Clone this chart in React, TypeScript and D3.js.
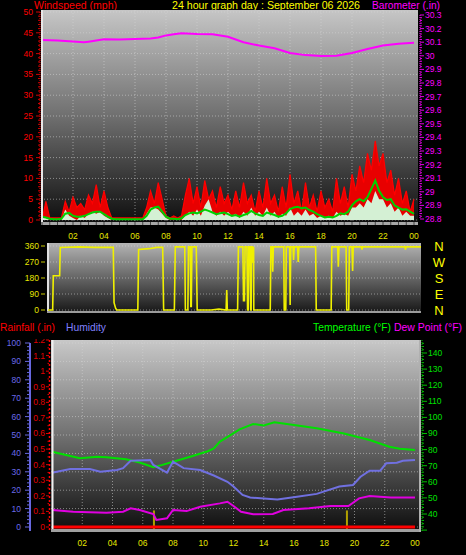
import React from "react";
import * as d3 from "d3";

const W = 466;
const H = 555;
const FONT = "'Liberation Sans', Arial, Helvetica, sans-serif";

// ---------- Wind (15-minute samples, 0h .. 24h) ----------
const windGust = [
  0, 4.5, 0.5, 0.5, 0.5, 0.5, 4.5, 2, 5.5, 3, 4, 2.5, 6, 4, 8.5, 3, 7, 3, 0.5, 0.5, 0.5, 0.5, 0.5, 0.5,
  0.5, 0.5, 0.5, 3, 7, 4, 9, 5, 1, 0.5, 1, 0.5, 1, 6, 10, 4, 8, 3, 9.5, 5, 7, 3, 8, 4,
  6, 2.5, 7, 3, 9, 4, 6, 2, 7, 3, 10, 4, 6, 2, 8, 3, 11, 4, 7, 2, 9, 3, 6, 2,
  7, 3, 5, 2, 10, 4, 8, 3, 11, 7, 13, 9, 16, 12, 19, 13, 16, 9, 12, 6, 10, 4, 7, 2, 5,
];
const windSpeed = [
  0.5, 0.5, 0, 0, 0, 0, 2.5, 1, 0.5, 0, 1, 0.5, 1.5, 2, 1.5, 2, 1, 0.5, 0, 0, 0, 0, 0, 0,
  0, 0, 0, 1.5, 3, 3, 2.5, 1.5, 0.5, 0, 0, 0, 0, 1, 2, 1, 2.5, 1, 3.5, 5, 2, 1, 2, 1,
  2, 1, 1.5, 0.5, 2, 1, 3, 1, 2, 1, 3, 1, 2, 0.5, 1.5, 1, 3, 1, 2, 1, 2.5, 1, 1.5, 0.5,
  1, 0.5, 1, 0.5, 2, 1, 1.5, 1, 3, 3, 4, 3, 5, 4, 7, 5, 5, 3, 4, 2, 3, 1, 2, 1, 1,
];
const windAvg = [
  0.8, 0.6, 0.3, 0.2, 0.2, 0.3, 1.5, 1.7, 1.0, 0.8, 0.8, 1.0, 1.4, 1.8, 2.0, 2.0, 1.4, 0.8, 0.3, 0.2, 0.2, 0.2, 0.2, 0.2,
  0.2, 0.2, 0.2, 1.0, 2.5, 3.0, 3.2, 2.0, 0.8, 0.3, 0.3, 0.2, 0.4, 1.2, 1.6, 1.8, 1.6, 2.0, 2.5, 2.2, 1.8, 1.4, 1.6, 1.8,
  1.4, 1.0, 1.2, 0.8, 1.2, 1.5, 2.2, 1.6, 1.2, 1.0, 1.8, 1.5, 1.2, 0.8, 1.0, 1.6, 2.6, 3.0, 3.2, 2.8, 3.0, 2.4, 2.0, 1.4,
  1.0, 0.6, 0.8, 0.6, 1.0, 1.6, 1.4, 2.0, 3.5, 4.5, 5.0, 4.5, 5.5, 7.5, 9.5, 7.0, 5.5, 4.8, 5.0, 3.5, 3.0, 2.5, 2.6, 2.0, 1.5,
];

// ---------- Barometer ----------
const baroHours = [0, 1, 2, 2.7, 3, 4, 5, 6, 7, 7.5, 8, 8.5, 9, 10, 11, 12, 13, 14, 15, 16, 17, 18, 19, 20, 21, 22, 23, 24];
const baroValues = [30.116, 30.112, 30.105, 30.099, 30.104, 30.122, 30.12, 30.124, 30.128, 30.135, 30.15, 30.158, 30.165, 30.16,
  30.158, 30.14, 30.1, 30.075, 30.055, 30.02, 30.005, 29.999, 30.0, 30.02, 30.05, 30.075, 30.088, 30.096];

// ---------- Wind direction ----------
const dirHours = [0, 0.3, 0.34, 0.75, 0.79, 2.0, 3.0, 4.2, 4.25, 4.35, 4.42, 5.78, 5.83, 6.5, 7.0, 7.38, 7.44, 8.13, 8.19, 8.8,
  8.84, 9.0, 9.04, 9.15, 9.19, 9.22, 9.26, 9.54, 9.6, 10.5, 11.0, 11.46, 11.5, 11.54, 12.2, 12.25, 12.54, 12.58, 12.64, 12.68,
  12.8, 12.84, 12.88, 12.92, 13.0, 13.04, 13.07, 13.1, 13.17, 13.2, 13.23, 13.24, 14.3, 14.34, 14.42, 14.46, 14.5, 15.17, 15.2, 15.3,
  15.33, 15.55, 15.58, 15.62, 15.77, 15.8, 15.84, 16.06, 16.1, 16.14, 17.22, 17.26, 18.22, 18.26, 18.64, 18.68, 18.72, 19.18, 19.22, 19.35,
  19.39, 19.56, 19.6, 19.64, 20.16, 20.2, 20.24, 22.0, 22.98, 23.0, 23.04, 24];
const dirValues = [0, 0, 193, 193, 352, 355, 352, 352, 41, 10, 0, 0, 341, 345, 352, 352, 0, 0, 355, 355,
  0, 0, 355, 355, 20, 20, 355, 355, 0, 0, 5, 0, 112, 0, 0, 355, 355, 52, 52, 355,
  355, 0, 0, 355, 355, 0, 0, 355, 355, 264, 355, 0, 0, 355, 355, 215, 355, 355, 0, 0,
  355, 355, 28, 355, 355, 281, 355, 355, 270, 355, 355, 0, 0, 355, 355, 244, 355, 355, 0, 0,
  355, 355, 220, 355, 355, 340, 355, 355, 355, 340, 355, 355];

// ---------- Temperature / humidity / dew point / rain ----------
const tempHours = [0, 1, 1.85, 3, 3.6, 4.9, 5.8, 6.7, 7.3, 8, 9.3, 10.3, 10.7, 11.1, 11.8, 12.4, 13.3, 14, 14.7, 16, 17.5, 19.3, 21, 22.3, 23, 24];
const tempValues = [78.7, 76.5, 74.6, 75.5, 75.2, 74, 72, 69, 70.5, 72.5, 76, 79, 80.8, 85, 89, 92.6, 95.9, 95, 97, 95.3, 93.2, 90, 86, 81.8, 80.5, 79.8];

const humHours = [0, 1.2, 2.5, 3.2, 4.3, 4.7, 5.2, 6.5, 6.7, 7.6, 8.0, 8.7, 9.8, 10.7, 11.6, 12.0, 12.6, 13.1, 14.9, 16.2, 17.5, 19, 19.9, 20.4, 21, 21.7, 22.1, 22.8, 23.2, 24];
const humValues = [29.5, 31.5, 31.5, 30, 31, 32, 36, 36.4, 33.7, 29.5, 35.5, 32, 31, 28, 24.6, 22, 17.4, 16, 15, 16.5, 18, 22, 22.8, 27.3, 30.6, 30.6, 34.6, 34.9, 36, 36.4];

const dewHours = [0, 1.4, 3.6, 4.7, 5.2, 5.8, 6.7, 6.9, 7.6, 8.0, 8.9, 9.8, 11.1, 11.6, 12.0, 12.5, 13.3, 14.6, 15.3, 17.0, 18.4, 19.6, 20.3, 21.0, 22.4, 24];
const dewValues = [42.5, 41.4, 40.8, 41.4, 43.5, 42.5, 40, 36.3, 37.3, 42.5, 41.8, 44.5, 46.6, 47.6, 45, 41.4, 39.8, 40, 42.5, 43.5, 45, 45, 49.7, 51.2, 50.2, 50.2];

const rainHours = [0, 24];
const rainValues = [0, 0];
const rainMarkHours = [6.74, 19.5];
const rainMarkHeights = [9, 9];

// ---------- tick labels ----------
const hourTicks = [2, 4, 6, 8, 10, 12, 14, 16, 18, 20, 22, 24];
const hourLabels = ["02", "04", "06", "08", "10", "12", "14", "16", "18", "20", "22", "00"];
const windTicks = [0, 5, 10, 15, 20, 25, 30, 35, 40, 45, 50];
const baroTicks = [28.8, 28.9, 29.0, 29.1, 29.2, 29.3, 29.4, 29.5, 29.6, 29.7, 29.8, 29.9, 30.0, 30.1, 30.2, 30.3];
const dirTicks = [0, 90, 180, 270, 360];
const compass = ["N", "W", "S", "E", "N"];
const humTicks = [0, 10, 20, 30, 40, 50, 60, 70, 80, 90, 100];
const rainTicks = [0, 0.1, 0.2, 0.3, 0.4, 0.5, 0.6, 0.7, 0.8, 0.9, 1.0, 1.1, 1.2];
const tempTicks = [40, 50, 60, 70, 80, 90, 100, 110, 120, 130, 140];

// ---------- scales ----------
const xTop = d3.scaleLinear().domain([0, 24]).range([42, 414]);
const yWind = d3.scaleLinear().domain([0, 50]).range([220, 12]);
const yBaro = d3.scaleLinear().domain([28.8, 30.3]).range([219, 15]);
const xMid = d3.scaleLinear().domain([0, 24]).range([48, 421]);
const yDir = d3.scaleLinear().domain([0, 360]).range([310, 246]);
const xBot = d3.scaleLinear().domain([0, 24]).range([52, 415]);
const yHum = d3.scaleLinear().domain([0, 100]).range([527, 343]);
const yRain = d3.scaleLinear().domain([0, 1.2]).range([527, 340]);
const yTemp = d3.scaleLinear().domain([40, 140]).range([514, 353]);

const TOP = { x: 41, y: 10, w: 377, h: 215 };
const MID = { x: 47, y: 243, w: 374, h: 70 };
const BOT = { x: 51, y: 340, w: 370, h: 192 };

const windT = windGust.map((_, i) => i / 4);

function fmtOne(v: number) {
  return d3.format(".1f")(v).replace(/\.0$/, "");
}

const grid = "rgba(215,215,215,0.55)";
const LBL = 8.5;

function Head(p: { x: number; y: number; len: number; color: string; children: string }) {
  return (
    <text x={p.x} y={p.y} fontSize={11} fill={p.color} textLength={p.len} lengthAdjust="spacingAndGlyphs">{p.children}</text>
  );
}

export default function App() {
  const gustArea = d3.area<number>().x((_, i) => xTop(windT[i])).y0(yWind(0)).y1((d) => yWind(d))(windGust) || "";
  const gustLine = d3.line<number>().x((_, i) => xTop(windT[i])).y((d) => yWind(d))(windGust) || "";
  const speedArea = d3.area<number>().x((_, i) => xTop(windT[i])).y0(yWind(0)).y1((d) => yWind(d))(windSpeed) || "";
  const avgLine = d3.line<number>().x((_, i) => xTop(windT[i])).y((d) => yWind(d))(windAvg) || "";
  const baroLine = d3.line<number>().x((_, i) => xTop(baroHours[i])).y((d) => yBaro(d))(baroValues) || "";
  const dirLine = d3.line<number>().x((_, i) => xMid(dirHours[i])).y((d) => yDir(d))(dirValues) || "";
  const tempLine = d3.line<number>().x((_, i) => xBot(tempHours[i])).y((d) => yTemp(d))(tempValues) || "";
  const humLine = d3.line<number>().x((_, i) => xBot(humHours[i])).y((d) => yHum(d))(humValues) || "";
  const dewLine = d3.line<number>().x((_, i) => xBot(dewHours[i])).y((d) => yTemp(d))(dewValues) || "";
  const rainLine = d3.line<number>().x((_, i) => xBot(rainHours[i])).y((d) => yRain(d))(rainValues) || "";

  const windMinor = d3.range(0, 50.01, 1);
  const baroMinor = d3.range(0, 76).map((i) => 28.8 + i * 0.02);
  const humMinor = d3.range(0, 100.01, 2);
  const rainMinor = d3.range(0, 25).map((i) => i * 0.05);
  const tempMinor = d3.range(0, 60).map((i) => 30 + i * 2);
  const halfHours = d3.range(0, 49).map((i) => i / 2);

  return (
    <svg width={W} height={H} style={{ position: "absolute", left: 0, top: 0, background: "#000" }} fontFamily={FONT}>
      <defs>
        <linearGradient id="gTop" x1="0" y1="0" x2="0" y2="1">
          <stop offset="0" stopColor="#c6c6c6" />
          <stop offset="0.5" stopColor="#6e6e6e" />
          <stop offset="1" stopColor="#0c0c0c" />
        </linearGradient>
        <linearGradient id="gMid" x1="0" y1="0" x2="0" y2="1">
          <stop offset="0" stopColor="#b4b4b4" />
          <stop offset="1" stopColor="#161616" />
        </linearGradient>
        <linearGradient id="gBot" x1="0" y1="0" x2="0" y2="1">
          <stop offset="0" stopColor="#c8c8c8" />
          <stop offset="0.5" stopColor="#707070" />
          <stop offset="1" stopColor="#0c0c0c" />
        </linearGradient>
        <clipPath id="cTop"><rect x={TOP.x} y={TOP.y} width={TOP.w} height={TOP.h} /></clipPath>
        <clipPath id="cMid"><rect x={MID.x} y={MID.y} width={MID.w} height={MID.h} /></clipPath>
        <clipPath id="cBot"><rect x={BOT.x} y={BOT.y} width={BOT.w} height={BOT.h} /></clipPath>
        <clipPath id="cLbl"><rect x={0} y={339} width={W} height={H - 339} /></clipPath>
      </defs>
      <rect x={0} y={0} width={W} height={H} fill="#000" />

      {/* ================= TOP PANEL ================= */}
      <Head x={34} y={9} len={83} color="#ff0000">Windspeed (mph)</Head>
      <Head x={172} y={9} len={188} color="#ffff00">24 hour graph day : September 06 2026</Head>
      <Head x={372} y={9} len={68} color="#ff00ff">Barometer (.in)</Head>

      <rect x={TOP.x} y={TOP.y} width={TOP.w} height={TOP.h} fill="url(#gTop)" />
      {windTicks.map((t) => (
        <line key={"wg" + t} x1={TOP.x} x2={TOP.x + TOP.w} y1={yWind(t)} y2={yWind(t)} stroke={grid} strokeDasharray="1,2" />
      ))}
      {hourTicks.slice(0, 11).map((t) => (
        <line key={"tv" + t} x1={xTop(t)} x2={xTop(t)} y1={TOP.y} y2={TOP.y + TOP.h} stroke={grid} strokeDasharray="1,2" />
      ))}
      <g clipPath="url(#cTop)">
        <path d={gustArea} fill="#e80000" />
        <path d={gustLine} fill="none" stroke="#ff0000" strokeWidth={1.2} />
        <path d={speedArea} fill="#d4f0d4" />
        <path d={avgLine} fill="none" stroke="#00d000" strokeWidth={2} />
        <path d={baroLine} fill="none" stroke="#ff00ff" strokeWidth={2} />
      </g>
      <line x1={TOP.x + 1} x2={TOP.x + 1} y1={TOP.y} y2={TOP.y + TOP.h} stroke="#e8e8e8" strokeWidth={2} />
      <line x1={TOP.x} x2={TOP.x + TOP.w} y1={TOP.y + TOP.h - 1.5} y2={TOP.y + TOP.h - 1.5} stroke="#a8a8a8" strokeWidth={3} />
      {halfHours.map((h) => (
        <line key={"hh" + h} x1={xTop(h)} x2={xTop(h)} y1={TOP.y + TOP.h - 3} y2={TOP.y + TOP.h} stroke="#444" />
      ))}
      {/* left wind axis */}
      <line x1={40} x2={40} y1={yWind(50)} y2={yWind(0)} stroke="#ff0000" strokeDasharray="1,1" />
      {windMinor.map((t) => (
        <line key={"wm" + t} x1={t % 5 === 0 ? 36 : 38} x2={40} y1={yWind(t)} y2={yWind(t)} stroke="#d00000" />
      ))}
      {windTicks.map((t) => (
        <text key={"wl" + t} x={33} y={yWind(t)} dy="0.35em" fontSize={LBL} fill="#ff0000" textAnchor="end">{t}</text>
      ))}
      {/* right baro axis */}
      <line x1={420} x2={420} y1={yBaro(30.3)} y2={yBaro(28.8)} stroke="#ff00ff" strokeDasharray="1,1" />
      {baroMinor.map((t, i) => (
        <line key={"bm" + i} x1={420} x2={i % 5 === 0 ? 424 : 422} y1={yBaro(t)} y2={yBaro(t)} stroke="#e000e0" />
      ))}
      {baroTicks.map((t) => (
        <text key={"bl" + t} x={425} y={yBaro(t)} dy="0.35em" fontSize={LBL} fill="#ff00ff">{fmtOne(t)}</text>
      ))}
      {hourTicks.map((t, i) => (
        <text key={"xl" + t} x={xTop(t)} y={238.5} fontSize={LBL} fill="#e6e600" textAnchor="middle">{hourLabels[i]}</text>
      ))}

      {/* ================= MIDDLE PANEL ================= */}
      <rect x={MID.x} y={MID.y} width={MID.w} height={MID.h} fill="url(#gMid)" />
      {dirTicks.map((t) => (
        <line key={"dg" + t} x1={MID.x} x2={MID.x + MID.w} y1={yDir(t)} y2={yDir(t)} stroke={grid} strokeDasharray="1,2" />
      ))}
      <line x1={MID.x + 1} x2={MID.x + 1} y1={MID.y} y2={MID.y + MID.h} stroke="#e0e0e0" strokeWidth={2} />
      <line x1={MID.x} x2={MID.x + MID.w} y1={MID.y + MID.h - 1} y2={MID.y + MID.h - 1} stroke="#9a9a9a" strokeWidth={2} />
      <g clipPath="url(#cMid)">
        <path d={dirLine} fill="none" stroke="#f0f000" strokeWidth={1.6} />
      </g>
      {dirTicks.map((t) => (
        <g key={"dl" + t}>
          <line x1={41} x2={45} y1={yDir(t)} y2={yDir(t)} stroke="#c8c800" />
          <text x={39} y={yDir(t)} dy="0.35em" fontSize={LBL} fill="#e6e600" textAnchor="end">{t}</text>
        </g>
      ))}
      {compass.map((c, i) => (
        <text key={"cp" + i} x={439} y={yDir(360 - i * 90)} dy="0.38em" fontSize={13} fill="#ffff00" textAnchor="middle">{c}</text>
      ))}

      {/* ================= BOTTOM PANEL ================= */}
      <Head x={0} y={331} len={55} color="#ff0000">Rainfall (.in)</Head>
      <Head x={66} y={331} len={40} color="#8080ff">Humidity</Head>
      <Head x={313} y={331} len={78} color="#00ff00">Temperature (°F)</Head>
      <Head x={394} y={331} len={68} color="#ff00ff">Dew Point (°F)</Head>

      <rect x={BOT.x} y={BOT.y} width={BOT.w} height={BOT.h} fill="url(#gBot)" />
      {humTicks.map((t) => (
        <line key={"hg" + t} x1={BOT.x} x2={BOT.x + BOT.w} y1={yHum(t)} y2={yHum(t)} stroke={grid} strokeDasharray="1,2" />
      ))}
      {hourTicks.slice(0, 11).map((t) => (
        <line key={"bv" + t} x1={xBot(t)} x2={xBot(t)} y1={BOT.y} y2={BOT.y + BOT.h} stroke={grid} strokeDasharray="1,2" />
      ))}
      <g clipPath="url(#cBot)">
        {rainMarkHours.map((h, i) => (
          <line key={"rm" + i} x1={xBot(h)} x2={xBot(h)} y1={BOT.y + BOT.h} y2={yHum(rainMarkHeights[i])} stroke="#b0a000" strokeWidth={2} />
        ))}
        <path d={rainLine} fill="none" stroke="#ff0000" strokeWidth={3} />
        <path d={tempLine} fill="none" stroke="#00e000" strokeWidth={2} />
        <path d={humLine} fill="none" stroke="#7070e0" strokeWidth={2} />
        <path d={dewLine} fill="none" stroke="#e000e0" strokeWidth={2} />
      </g>
      <line x1={BOT.x + 1.5} x2={BOT.x + 1.5} y1={BOT.y} y2={BOT.y + BOT.h} stroke="#f0f0f0" strokeWidth={2} />
      <line x1={BOT.x} x2={BOT.x + BOT.w} y1={BOT.y + BOT.h - 1.5} y2={BOT.y + BOT.h - 1.5} stroke="#a0a0a0" strokeWidth={3} />
      <line x1={BOT.x + BOT.w - 1} x2={BOT.x + BOT.w - 1} y1={BOT.y} y2={BOT.y + BOT.h} stroke="#b0b0b0" strokeWidth={2} />

      {/* humidity axis */}
      <line x1={30} x2={30} y1={yHum(100)} y2={yHum(0) + 4} stroke="#6868e0" strokeWidth={2} />
      {humMinor.map((t) => (
        <line key={"hm" + t} x1={t % 10 === 0 ? 25 : 27} x2={30} y1={yHum(t)} y2={yHum(t)} stroke="#6868e0" />
      ))}
      {humTicks.map((t) => (
        <text key={"hl" + t} x={21} y={yHum(t)} dy="0.35em" fontSize={LBL} fill="#6a6ae8" textAnchor="end">{t}</text>
      ))}
      {/* rain axis */}
      <line x1={49.5} x2={49.5} y1={BOT.y} y2={yRain(0) + 4} stroke="#ff0000" strokeWidth={1.5} strokeDasharray="2,2" />
      {rainMinor.map((t, i) => (
        <line key={"rnm" + i} x1={i % 2 === 0 ? 46 : 47.5} x2={49} y1={yRain(t)} y2={yRain(t)} stroke="#e00000" />
      ))}
      <g clipPath="url(#cLbl)">
        {rainTicks.map((t) => (
          <text key={"rl" + t} x={45} y={yRain(t)} dy="0.35em" fontSize={LBL} fill="#e00000" textAnchor="end">{fmtOne(t)}</text>
        ))}
      </g>
      {/* temperature axis */}
      <line x1={422} x2={422} y1={BOT.y} y2={BOT.y + BOT.h} stroke="#00c000" strokeDasharray="1,1" />
      {tempMinor.map((t) => (
        t <= 146 ? <line key={"tm" + t} x1={422} x2={t % 10 === 0 ? 427 : 424} y1={yTemp(t)} y2={yTemp(t)} stroke="#00c000" /> : null
      ))}
      {tempTicks.map((t) => (
        <text key={"tl" + t} x={428} y={yTemp(t)} dy="0.35em" fontSize={LBL} fill="#00e000">{t}</text>
      ))}
      {hourTicks.map((t, i) => (
        <text key={"bx" + t} x={xBot(t)} y={546} fontSize={LBL} fill="#e6e600" textAnchor="middle">{hourLabels[i]}</text>
      ))}
    </svg>
  );
}
